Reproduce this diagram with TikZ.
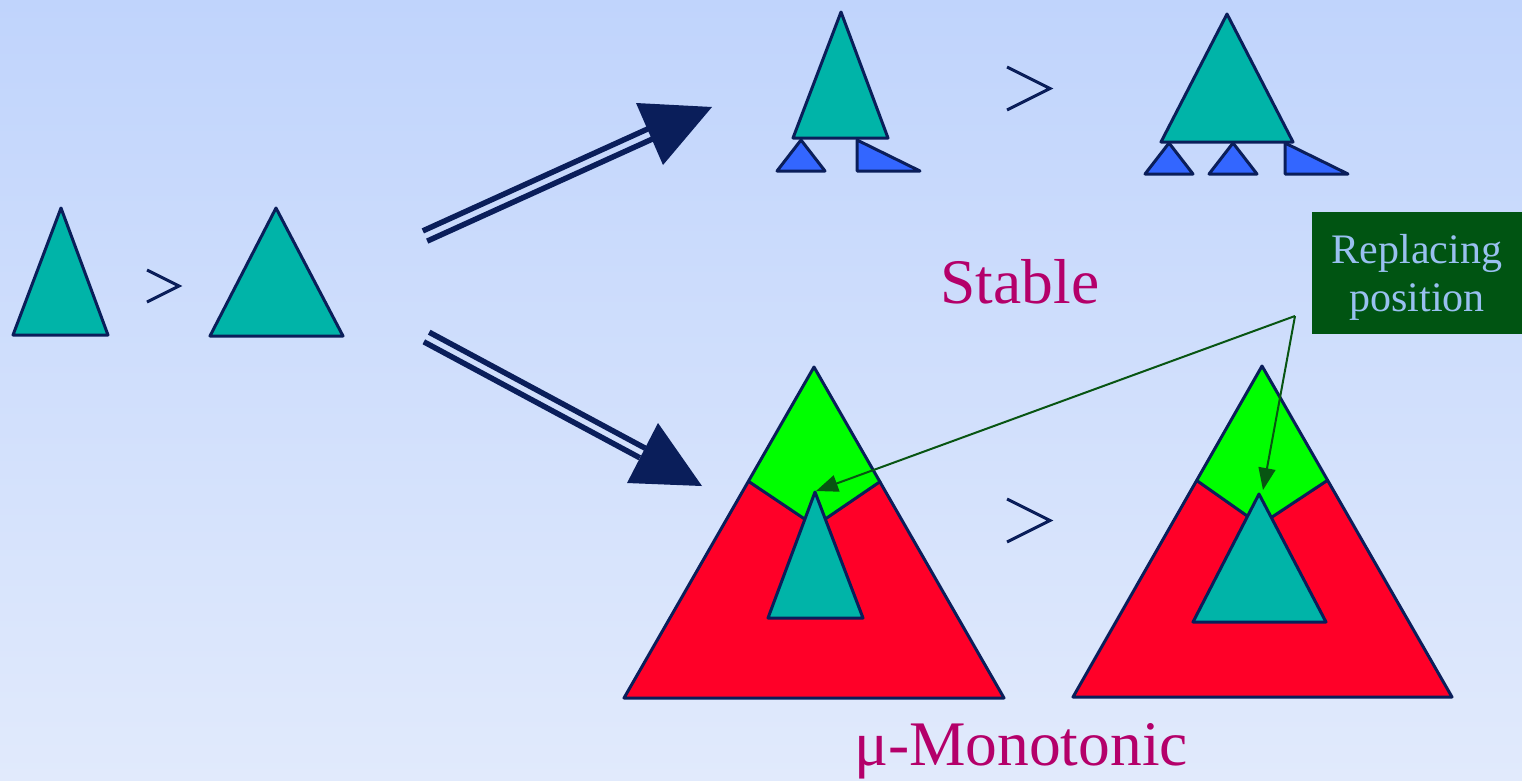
\documentclass[tikz,border=0pt]{standalone}
\usepackage{fontspec}
\setmainfont{Liberation Serif}
\usetikzlibrary{arrows.meta}
\definecolor{bgtop}{RGB}{192,212,252}
\definecolor{bgbot}{RGB}{225,234,252}
\definecolor{navy}{RGB}{10,30,90}
\definecolor{teal1}{RGB}{0,180,168}
\definecolor{blue1}{RGB}{51,102,255}
\definecolor{red1}{RGB}{255,0,40}
\definecolor{green1}{RGB}{0,255,0}
\definecolor{boxgreen}{RGB}{0,84,18}
\definecolor{arrgreen}{RGB}{8,85,18}
\definecolor{lblue}{RGB}{153,192,240}
\definecolor{magenta1}{RGB}{180,0,106}
\tikzset{
  outl/.style={draw=navy, line width=3pt, line join=round},
  tri/.style={outl, fill=teal1},
  btri/.style={outl, fill=blue1},
  redtri/.style={fill=red1},
  gtsign/.style={draw=navy, line width=3pt, line join=miter},
  dline/.style={draw=navy, line width=5.5pt},
  dhead/.style={fill=navy},
  garrow/.style={draw=arrgreen, line width=2pt, -{Triangle[length=22pt,width=17pt]}},
  bigtext/.style={text=magenta1, font=\fontsize{63.5}{74}\selectfont, inner sep=0pt},
  boxtext/.style={text=lblue, font=\fontsize{42}{48}\selectfont, align=center, inner sep=0pt},
}
\begin{document}
\begin{tikzpicture}[x=1pt,y=-1pt]
\useasboundingbox (0,0) rectangle (1522,780);
\shade[top color=bgtop, bottom color=bgbot] (0,0) rectangle (1522,780);

% left pair
\draw[tri] (61,208) -- (108,335) -- (13,335) -- cycle;
\draw[gtsign] (147,270) -- (179,286) -- (147,302);
\draw[tri] (276,208) -- (343,336) -- (210,336) -- cycle;

% double arrows
\coordinate (uA1) at (422.8,230.9); \coordinate (uA2) at (647.8,128.9);
\coordinate (uB1) at (427.2,241.1); \coordinate (uB2) at (652.2,139.1);
\draw[dline] (uA1) -- (uA2);
\draw[dline] (uB1) -- (uB2);
\fill[dhead] (636,103) -- (712,107) -- (663,165) -- cycle;
\coordinate (lA1) at (429.2,332.2); \coordinate (lA2) at (645.2,448.2);
\coordinate (lB1) at (423.8,341.8); \coordinate (lB2) at (639.8,457.8);
\draw[dline] (lA1) -- (lA2);
\draw[dline] (lB1) -- (lB2);
\fill[dhead] (658,423) -- (702,486) -- (627,483) -- cycle;

% top group
\draw[tri] (841,12) -- (888,138) -- (793,138) -- cycle;
\draw[btri] (801,140) -- (825,171) -- (777,171) -- cycle;
\draw[btri] (857,140) -- (920,171) -- (857,171) -- cycle;
\draw[gtsign] (1007,67) -- (1050,88.5) -- (1007,110);
\draw[tri] (1227,14) -- (1293,142) -- (1161,142) -- cycle;
\draw[btri] (1169,143) -- (1193,174) -- (1145,174) -- cycle;
\draw[btri] (1233,143) -- (1257,174) -- (1209,174) -- cycle;
\draw[btri] (1285,143) -- (1348,174) -- (1285,174) -- cycle;

\node[bigtext, anchor=base] (stable) at (1020,303) {Stable};

% lower left composite
\fill[redtri] (814,367) -- (1004,698) -- (624,698) -- cycle;
\fill[green1] (814,367) -- (881,481) -- (815,526) -- (748,481) -- cycle;
\draw[outl] (814,367) -- (1004,698) -- (624,698) -- cycle;
\draw[outl] (748,481) -- (815,526) -- (881,481);
\draw[tri] (815,492) -- (863,618) -- (768,618) -- cycle;

\draw[gtsign] (1007,499) -- (1050,520.5) -- (1007,542);

% lower right composite
\fill[redtri] (1262,366) -- (1452,697) -- (1073,697) -- cycle;
\fill[green1] (1262,366) -- (1328,480) -- (1260,525) -- (1196,480) -- cycle;
\draw[outl] (1262,366) -- (1452,697) -- (1073,697) -- cycle;
\draw[outl] (1196,480) -- (1260,525) -- (1328,480);
\draw[tri] (1259,494) -- (1326,622) -- (1193,622) -- cycle;

\node[bigtext, anchor=base] (mono) at (1021,765) {μ-Monotonic};

% replacing position box
\node[fill=boxgreen, minimum width=210pt, minimum height=122pt, inner sep=0pt, anchor=north west] (rp) at (1312,212) {};
\node[boxtext] (rptext) at (1417,277) {Replacing\\position};
\coordinate (src) at (1295,316);
\coordinate (tipL) at (816,491);
\coordinate (tipR) at (1263,490);
\draw[garrow] (src) -- (tipL);
\draw[garrow] (src) -- (tipR);
\end{tikzpicture}
\end{document}
